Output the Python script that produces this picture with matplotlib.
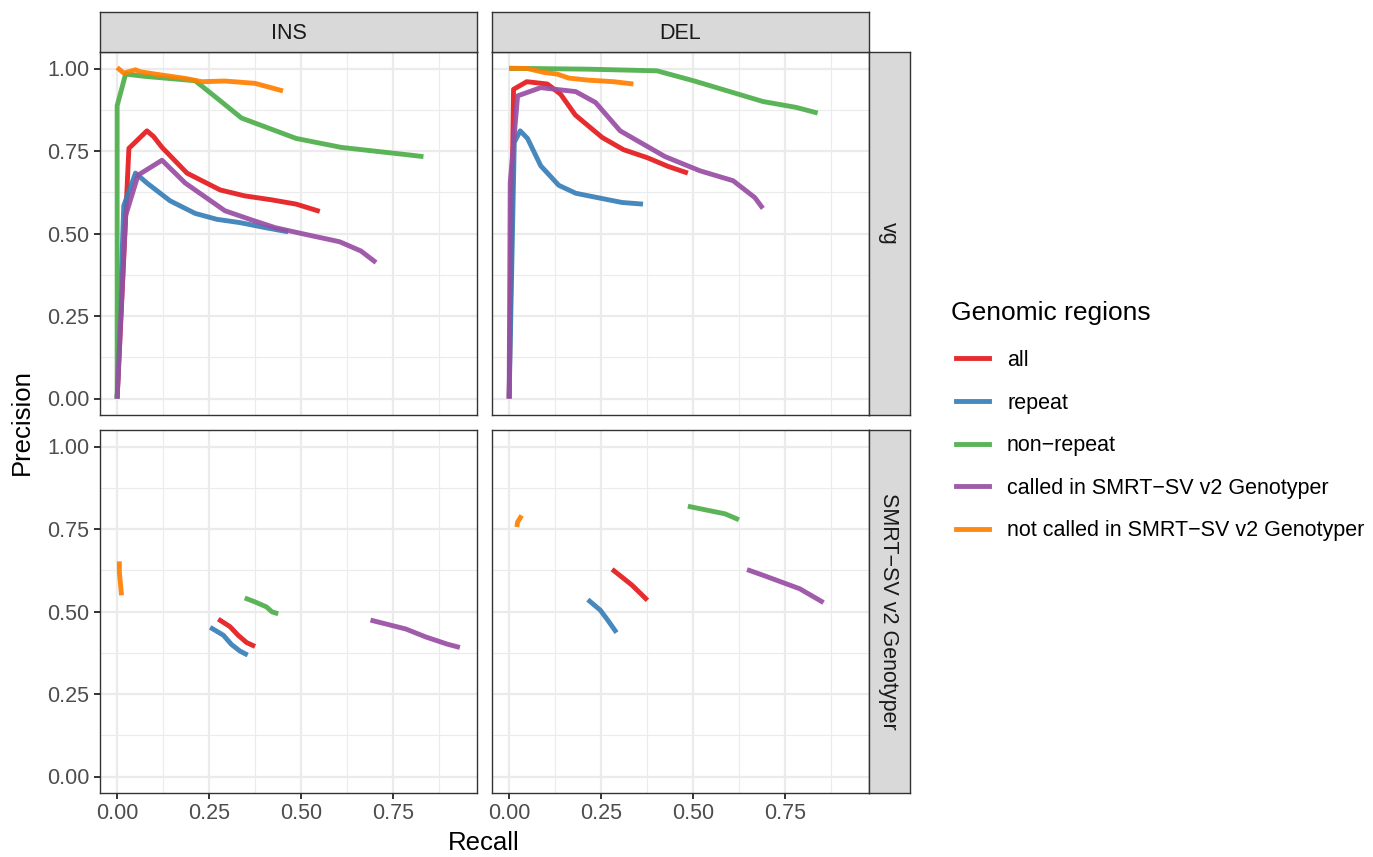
import matplotlib
matplotlib.use('Agg')
import matplotlib.pyplot as plt
from matplotlib.lines import Line2D

plt.rcParams['font.family'] = ['Liberation Sans', 'DejaVu Sans']

# ---------------------------------------------------------------
# data (recall, precision)
regions = ['all', 'repeat', 'non\u2212repeat',
           'called in SMRT\u2212SV v2 Genotyper',
           'not called in SMRT\u2212SV v2 Genotyper']
colors = ['#E41A1C', '#377EB8', '#4DAF4A', '#984EA3', '#FF7F00']

# vg, INS
ins_vg_all_x = [0, 0.032, 0.081, 0.099, 0.122, 0.19, 0.28, 0.347, 0.42, 0.487, 0.551]
ins_vg_all_y = [0, 0.758, 0.811, 0.794, 0.761, 0.683, 0.632, 0.614, 0.602, 0.589, 0.567]
ins_vg_rep_x = [0, 0.018, 0.05, 0.081, 0.144, 0.212, 0.271, 0.334, 0.402, 0.465]
ins_vg_rep_y = [0, 0.584, 0.683, 0.653, 0.599, 0.561, 0.543, 0.533, 0.518, 0.505]
ins_vg_non_x = [0, 0.0, 0.023, 0.077, 0.212, 0.275, 0.338, 0.487, 0.609, 0.754, 0.833]
ins_vg_non_y = [0, 0.887, 0.983, 0.976, 0.963, 0.907, 0.85, 0.788, 0.761, 0.743, 0.733]
ins_vg_cal_x = [0, 0.023, 0.057, 0.122, 0.185, 0.293, 0.366, 0.429, 0.501, 0.605, 0.663, 0.704]
ins_vg_cal_y = [0, 0.554, 0.677, 0.722, 0.653, 0.569, 0.541, 0.518, 0.5, 0.475, 0.447, 0.412]
ins_vg_not_x = [0, 0.018, 0.05, 0.063, 0.122, 0.185, 0.23, 0.293, 0.375, 0.451]
ins_vg_not_y = [1.003, 0.986, 0.996, 0.99, 0.98, 0.97, 0.96, 0.962, 0.955, 0.932]

# vg, DEL
del_vg_all_x = [0, 0.012, 0.048, 0.104, 0.14, 0.18, 0.253, 0.311, 0.375, 0.433, 0.486]
del_vg_all_y = [0, 0.937, 0.96, 0.953, 0.922, 0.859, 0.791, 0.754, 0.73, 0.703, 0.683]
del_vg_rep_x = [0, 0.014, 0.03, 0.05, 0.086, 0.135, 0.181, 0.239, 0.307, 0.364]
del_vg_rep_y = [0, 0.776, 0.811, 0.788, 0.705, 0.646, 0.622, 0.609, 0.594, 0.589]
del_vg_non_x = [0.0, 0.059, 0.212, 0.402, 0.501, 0.609, 0.69, 0.781, 0.839]
del_vg_non_y = [1.0, 1.0, 0.998, 0.993, 0.963, 0.927, 0.9, 0.882, 0.865]
del_vg_cal_x = [0, 0.003, 0.023, 0.086, 0.181, 0.235, 0.302, 0.424, 0.519, 0.609, 0.668, 0.69]
del_vg_cal_y = [0, 0.655, 0.917, 0.942, 0.93, 0.897, 0.811, 0.733, 0.69, 0.66, 0.609, 0.576]
del_vg_not_x = [0, 0.05, 0.095, 0.131, 0.162, 0.212, 0.284, 0.338]
del_vg_not_y = [1.001, 1.0, 0.988, 0.983, 0.971, 0.965, 0.96, 0.953]

# SMRT-SV v2 Genotyper, INS
ins_sm_all_x = [0.275, 0.307, 0.329, 0.352, 0.375]
ins_sm_all_y = [0.477, 0.454, 0.428, 0.406, 0.394]
ins_sm_rep_x = [0.253, 0.289, 0.311, 0.334, 0.355]
ins_sm_rep_y = [0.452, 0.428, 0.4, 0.38, 0.368]
ins_sm_non_x = [0.347, 0.375, 0.406, 0.421, 0.438]
ins_sm_non_y = [0.541, 0.529, 0.514, 0.499, 0.493]
ins_sm_cal_x = [0.689, 0.785, 0.839, 0.898, 0.932]
ins_sm_cal_y = [0.474, 0.447, 0.423, 0.401, 0.391]
ins_sm_not_x = [0.006, 0.006, 0.012]
ins_sm_not_y = [0.652, 0.62, 0.549]

# SMRT-SV v2 Genotyper, DEL
del_sm_all_x = [0.28, 0.334, 0.357, 0.376]
del_sm_all_y = [0.628, 0.58, 0.555, 0.534]
del_sm_rep_x = [0.214, 0.248, 0.268, 0.292]
del_sm_rep_y = [0.536, 0.504, 0.474, 0.436]
del_sm_non_x = [0.486, 0.587, 0.625]
del_sm_non_y = [0.819, 0.796, 0.778]
del_sm_cal_x = [0.647, 0.69, 0.79, 0.821, 0.855]
del_sm_cal_y = [0.627, 0.61, 0.569, 0.549, 0.527]
del_sm_not_x = [0.021, 0.023, 0.034]
del_sm_not_y = [0.756, 0.771, 0.791]

panels = {
    ('vg', 'INS'): [(ins_vg_all_x, ins_vg_all_y), (ins_vg_rep_x, ins_vg_rep_y),
                    (ins_vg_non_x, ins_vg_non_y), (ins_vg_cal_x, ins_vg_cal_y),
                    (ins_vg_not_x, ins_vg_not_y)],
    ('vg', 'DEL'): [(del_vg_all_x, del_vg_all_y), (del_vg_rep_x, del_vg_rep_y),
                    (del_vg_non_x, del_vg_non_y), (del_vg_cal_x, del_vg_cal_y),
                    (del_vg_not_x, del_vg_not_y)],
    ('smrt', 'INS'): [(ins_sm_all_x, ins_sm_all_y), (ins_sm_rep_x, ins_sm_rep_y),
                      (ins_sm_non_x, ins_sm_non_y), (ins_sm_cal_x, ins_sm_cal_y),
                      (ins_sm_not_x, ins_sm_not_y)],
    ('smrt', 'DEL'): [(del_sm_all_x, del_sm_all_y), (del_sm_rep_x, del_sm_rep_y),
                      (del_sm_non_x, del_sm_non_y), (del_sm_cal_x, del_sm_cal_y),
                      (del_sm_not_x, del_sm_not_y)],
}
col_labels = ['INS', 'DEL']
row_labels = ['vg', 'SMRT\u2212SV v2 Genotyper']
ticks = [0, 0.25, 0.5, 0.75, 1.0]
tick_labels = ['0.00', '0.25', '0.50', '0.75', '1.00']

# ---------------------------------------------------------------
W, H = 1373, 857
fig = plt.figure(figsize=(W / 100, H / 100), dpi=100)

def box(x0, y0, x1, y1):
    return [x0 / W, 1 - y1 / H, (x1 - x0) / W, (y1 - y0) / H]

col_x = [(100, 477), (492, 869)]
row_y = [(52, 415), (430, 793)]
sizel = 15.5
lw = 3.5
edge = '#333333'

for r, rkey in enumerate(['vg', 'smrt']):
    for c, ckey in enumerate(['INS', 'DEL']):
        ax = fig.add_axes(box(col_x[c][0], row_y[r][0], col_x[c][1], row_y[r][1]))
        for (x, y), col in zip(panels[(rkey, ckey)], colors):
            ax.plot(x, y, color=col, lw=lw, alpha=0.92, solid_capstyle='butt')
        ax.set_xlim(-0.0466, 0.9786)
        ax.set_ylim(-0.05, 1.05)
        ax.set_xticks(ticks[:4])
        ax.set_yticks(ticks)
        ax.set_xticks([0.125, 0.375, 0.625, 0.875], minor=True)
        ax.set_yticks([0.125, 0.375, 0.625, 0.875], minor=True)
        ax.grid(which='major', color='#EBEBEB', lw=1.6)
        ax.grid(which='minor', color='#EBEBEB', lw=0.8)
        ax.set_axisbelow(True)
        ax.tick_params(which='minor', length=0)
        ax.tick_params(which='major', length=4.5, width=1.4, color=edge,
                       labelcolor='#4D4D4D', labelsize=sizel, pad=3)
        if c == 0:
            ax.set_yticklabels(tick_labels)
        else:
            ax.tick_params(axis='y', length=0, labelleft=False)
        if r == 1:
            ax.set_xticklabels(tick_labels[:4])
        else:
            ax.tick_params(axis='x', length=0, labelbottom=False)
        for s in ax.spines.values():
            s.set_color(edge)
            s.set_linewidth(1.0)
        # top strips
        if r == 0:
            sax = fig.add_axes(box(col_x[c][0], 12, col_x[c][1], 52))
            sax.set_facecolor('#D9D9D9')
            sax.set_xticks([]); sax.set_yticks([])
            for s in sax.spines.values():
                s.set_color(edge); s.set_linewidth(1.0)
            sax.text(0.5, 0.47, col_labels[c], ha='center', va='center',
                     fontsize=sizel, color='#1A1A1A', transform=sax.transAxes)
        # right strips
        if c == 1:
            sax = fig.add_axes(box(869, row_y[r][0], 910, row_y[r][1]))
            sax.set_facecolor('#D9D9D9')
            sax.set_xticks([]); sax.set_yticks([])
            for s in sax.spines.values():
                s.set_color(edge); s.set_linewidth(1.0)
            sax.text(0.47, 0.5, row_labels[r], ha='center', va='center',
                     rotation=-90, fontsize=sizel, color='#1A1A1A',
                     transform=sax.transAxes)

fig.text(484 / W, 1 - 843 / H, 'Recall', ha='center', va='center', fontsize=18.5)
fig.text(22 / W, 1 - 422 / H, 'Precision', ha='center', va='center',
         rotation=90, fontsize=18.5)

fig.text(951 / W, 1 - 313 / H, 'Genomic regions', ha='left', va='center',
         fontsize=19)
handles = [Line2D([], [], color=col, lw=lw, alpha=0.92) for col in colors]
leg = fig.legend(handles, regions, loc='upper left',
                 bbox_to_anchor=(956 / W, 1 - 350 / H), frameon=False,
                 fontsize=sizel, labelspacing=1.0, handlelength=1.52,
                 handletextpad=0.85, borderpad=0, borderaxespad=0)

fig.savefig('out.png', dpi=100)
